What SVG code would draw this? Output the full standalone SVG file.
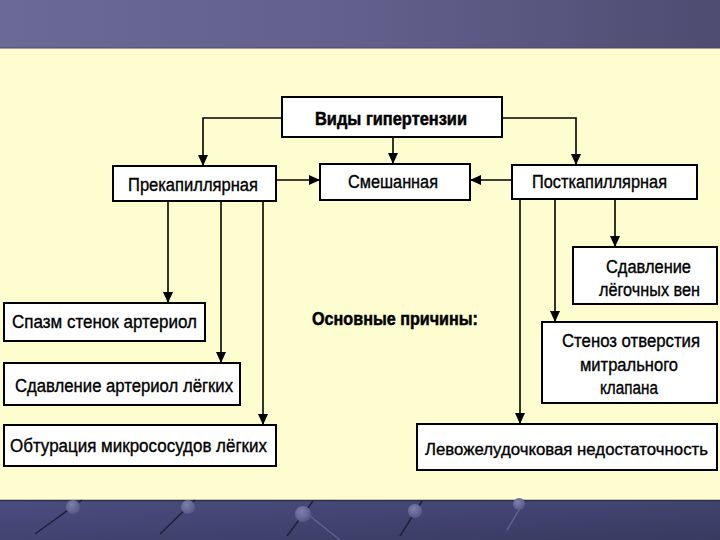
<svg xmlns="http://www.w3.org/2000/svg" width="720" height="540" viewBox="0 0 720 540">
  <defs>
    <linearGradient id="topg" x1="0" y1="0" x2="1" y2="0">
      <stop offset="0" stop-color="#6b6996"/>
      <stop offset="0.5" stop-color="#625f8c"/>
      <stop offset="1" stop-color="#4f4c72"/>
    </linearGradient>
    <linearGradient id="botg" x1="0" y1="0" x2="1" y2="1">
      <stop offset="0" stop-color="#4a4d80"/>
      <stop offset="1" stop-color="#393a60"/>
    </linearGradient>
    <radialGradient id="ball" cx="0.4" cy="0.35" r="0.7">
      <stop offset="0" stop-color="#7f81aa"/>
      <stop offset="1" stop-color="#535586"/>
    </radialGradient>
    <marker id="arr" markerUnits="userSpaceOnUse" markerWidth="11" markerHeight="10" refX="11" refY="5" orient="auto">
      <path d="M0,0 L11,5 L0,10 z" fill="#000"/>
    </marker>
    <style>
      .box{fill:#ffffff;stroke:#000;stroke-width:2}
      .t{font-family:"Liberation Sans","Arial",sans-serif;font-size:18px;fill:#000;stroke:#000;stroke-width:0.35}
      .b{font-weight:bold;stroke-width:0.5}
      .s{font-size:16.5px}
      .c{fill:none;stroke:#000;stroke-width:1.6}
      .pin{stroke:#1e1f3a;stroke-width:1.5;fill:none}
    </style>
  </defs>

  <!-- background -->
  <rect x="0" y="0" width="720" height="540" fill="#fefdd0"/>
  <rect x="0" y="0" width="720" height="48" fill="url(#topg)"/>
  <line x1="0" y1="48" x2="720" y2="48" stroke="#4a4860" stroke-width="1"/>
  <rect x="0" y="500" width="720" height="40" fill="url(#botg)"/>
  <line x1="0" y1="500.5" x2="720" y2="500.5" stroke="#2e2f4a" stroke-width="1.5"/>
  <g id="decor">
    <line class="pin" x1="82" y1="500" x2="35" y2="534"/>
    <circle cx="73" cy="507" r="7" fill="url(#ball)"/>
    <line class="pin" x1="195" y1="500" x2="160" y2="534"/>
    <circle cx="188" cy="507" r="7" fill="url(#ball)"/>
    <line class="pin" x1="313" y1="501" x2="287" y2="536"/>
    <line x1="305" y1="512" x2="340" y2="540" stroke="#5f6190" stroke-width="1.5"/>
    <circle cx="303" cy="514" r="8" fill="url(#ball)"/>
    <line class="pin" x1="422" y1="501" x2="400" y2="536"/>
    <circle cx="415" cy="511" r="7" fill="url(#ball)"/>
    <line x1="522" y1="505" x2="507" y2="530" stroke="#5f6190" stroke-width="1.5"/>
    <circle cx="519" cy="504" r="6" fill="url(#ball)"/>
  </g>

  <!-- connectors -->
  <g id="connectors">
    <path class="c" d="M282,118 H203 V166" marker-end="url(#arr)"/>
    <path class="c" d="M393,137 V164" marker-end="url(#arr)"/>
    <path class="c" d="M502,118 H576 V165" marker-end="url(#arr)"/>
    <path class="c" d="M276,180 H320" marker-end="url(#arr)"/>
    <path class="c" d="M512,180 H470" marker-end="url(#arr)"/>
    <path class="c" d="M168,201 V303" marker-end="url(#arr)"/>
    <path class="c" d="M221,201 V363" marker-end="url(#arr)"/>
    <path class="c" d="M263,201 V425" marker-end="url(#arr)"/>
    <path class="c" d="M615,199 V247" marker-end="url(#arr)"/>
    <path class="c" d="M555,199 V322" marker-end="url(#arr)"/>
    <path class="c" d="M520,199 V424" marker-end="url(#arr)"/>
  </g>

  <g id="vidy">
    <rect class="box" x="282" y="97" width="220" height="40"/>
    <text class="t b" x="315" y="125" textLength="152" lengthAdjust="spacingAndGlyphs">Виды гипертензии</text>
  </g>
  <g id="prekap">
    <rect class="box" x="113" y="166" width="163" height="35"/>
    <text class="t" x="128" y="191" textLength="130" lengthAdjust="spacingAndGlyphs">Прекапиллярная</text>
  </g>
  <g id="smesh">
    <rect class="box" x="320" y="164" width="150" height="36"/>
    <text class="t" x="348" y="188" textLength="90" lengthAdjust="spacingAndGlyphs">Смешанная</text>
  </g>
  <g id="postkap">
    <rect class="box" x="512" y="165" width="185" height="34"/>
    <text class="t" x="532" y="188" textLength="135" lengthAdjust="spacingAndGlyphs">Посткапиллярная</text>
  </g>
  <g id="sdavl-ven">
    <rect class="box" x="573" y="247" width="144" height="57"/>
    <text class="t" x="606" y="273" textLength="85" lengthAdjust="spacingAndGlyphs">Сдавление</text>
    <text class="t" x="599" y="296" textLength="101" lengthAdjust="spacingAndGlyphs">лёгочных вен</text>
  </g>
  <g id="stenoz">
    <rect class="box" x="542" y="322" width="175" height="81"/>
    <text class="t" x="562" y="347" textLength="138" lengthAdjust="spacingAndGlyphs">Стеноз отверстия</text>
    <text class="t" x="580" y="371" textLength="98" lengthAdjust="spacingAndGlyphs">митрального</text>
    <text class="t" x="600" y="394" textLength="58" lengthAdjust="spacingAndGlyphs">клапана</text>
  </g>
  <g id="levozhel">
    <rect class="box" x="417" y="424" width="300" height="46"/>
    <text class="t s" x="425" y="455" textLength="283" lengthAdjust="spacingAndGlyphs">Левожелудочковая недостаточность</text>
  </g>
  <g id="spazm">
    <rect class="box" x="4" y="303" width="201" height="38"/>
    <text class="t" x="12" y="328" textLength="185" lengthAdjust="spacingAndGlyphs">Спазм стенок артериол</text>
  </g>
  <g id="sdavl-art">
    <rect class="box" x="4" y="363" width="236" height="42"/>
    <text class="t" x="15" y="392" textLength="218" lengthAdjust="spacingAndGlyphs">Сдавление артериол лёгких</text>
  </g>
  <g id="obtur">
    <rect class="box" x="4" y="425" width="272" height="41"/>
    <text class="t" x="10" y="452" textLength="257" lengthAdjust="spacingAndGlyphs">Обтурация микрососудов лёгких</text>
  </g>
  <g id="osnovnye">
    <text class="t b" x="312" y="325" textLength="166" lengthAdjust="spacingAndGlyphs">Основные причины:</text>
  </g>
</svg>
